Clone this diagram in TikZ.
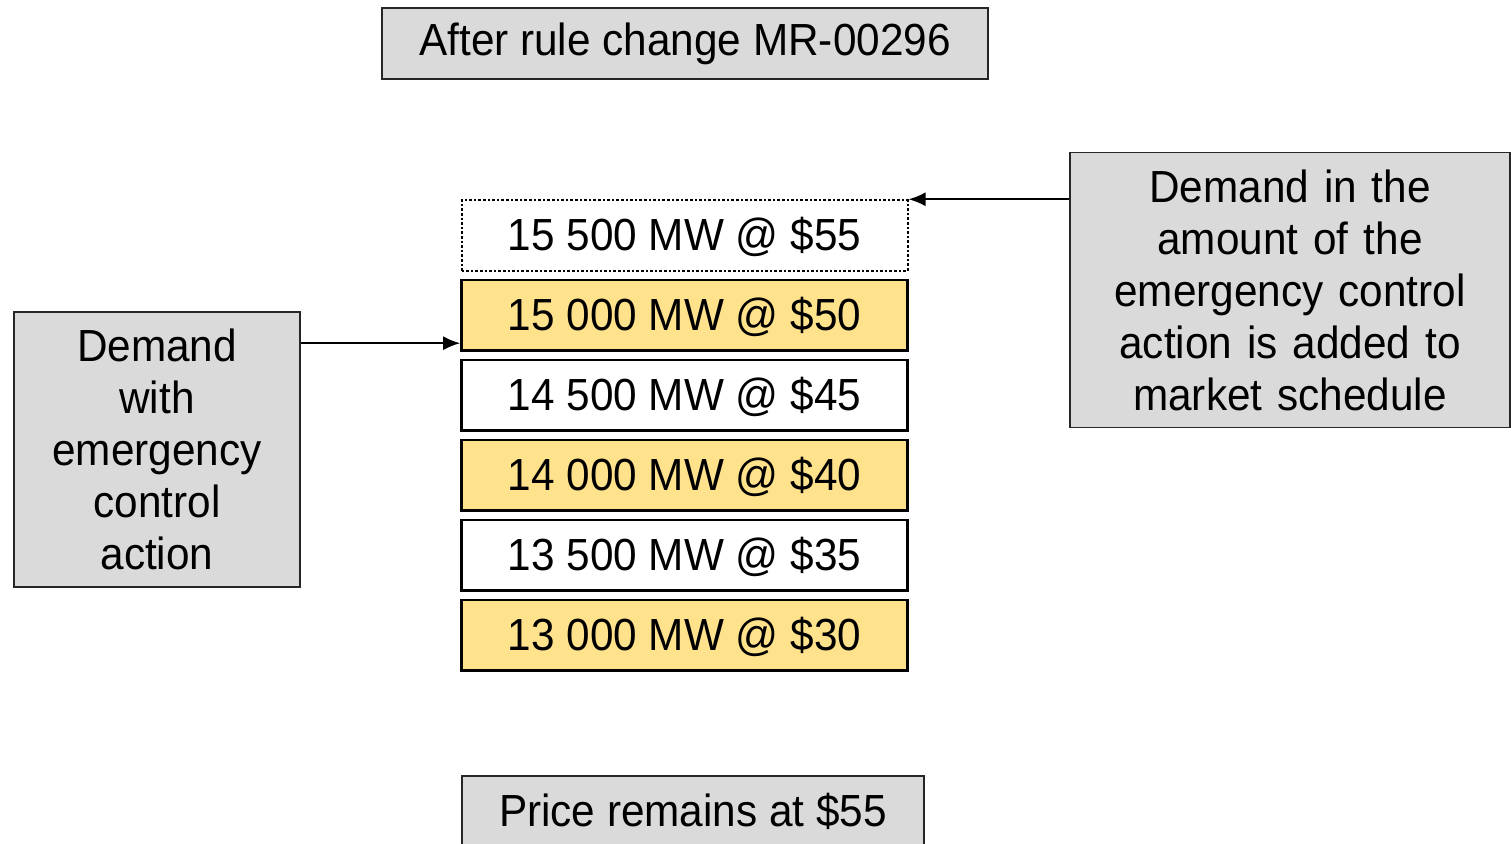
\documentclass[tikz,border=0pt]{standalone}
\usepackage{fontspec}
\setmainfont[FakeStretch=0.94]{Liberation Sans}
\usepackage{xcolor}
\usetikzlibrary{positioning,arrows.meta}
\definecolor{bidyellow}{RGB}{255,226,140}
\definecolor{notegray}{RGB}{218,218,218}

\begin{document}
\begin{tikzpicture}[x=1pt,y=-1pt,
	note/.style={draw=black!85,line width=1.6pt,fill=notegray,align=center,inner sep=0pt,font=\fontsize{45}{52}\selectfont},
	bid/.style={draw,line width=2.6pt,minimum width=446pt,minimum height=70.5pt,inner sep=0pt,text height=33pt,text depth=3pt,font=\fontsize{45}{52}\selectfont},
	offer/.style={bid,fill=bidyellow},
	link/.style={-{Latex[length=17pt,width=14pt]},line width=2pt},
	node distance=6.9pt]
		\useasboundingbox (0,0) rectangle (1511,843);
		\clip (0,0) rectangle (1511,843);
		% title and result
		\node[note,minimum width=606pt,minimum height=71pt] (title) at (685,43.5) {After rule change MR-00296};
		\node[note,minimum width=462pt,minimum height=71pt] (result) at (693,811.5) {Price remains at \$55};
		% bid stack
		\node[bid,dotted,line width=2pt] (row1) at (684.5,235.5) {15 500 MW @ \$55};
		\node[offer,below=of row1] (row2) {15 000 MW @ \$50};
		\node[bid,below=of row2] (row3) {14 500 MW @ \$45};
		\node[offer,below=of row3] (row4) {14 000 MW @ \$40};
		\node[bid,below=of row4] (row5) {13 500 MW @ \$35};
		\node[offer,below=of row5] (row6) {13 000 MW @ \$30};
		% side notes
		\node[note,minimum width=286pt,minimum height=275pt,text width=280pt] (demand) at (157,449.5) {Demand\\with\\emergency\\control\\action};
		\node[note,minimum width=440pt,minimum height=275pt,text width=430pt] (added) at (1290,290) {Demand in the\\amount of the\\emergency control\\action is added to\\market schedule};
		\draw[link] ([yshift=-32pt]demand.north east) -- ([yshift=-32pt]demand.north east -| row2.west);
		\draw[link] (added.west |- row1.north east) -- (row1.north east);
	\end{tikzpicture}
\end{document}
